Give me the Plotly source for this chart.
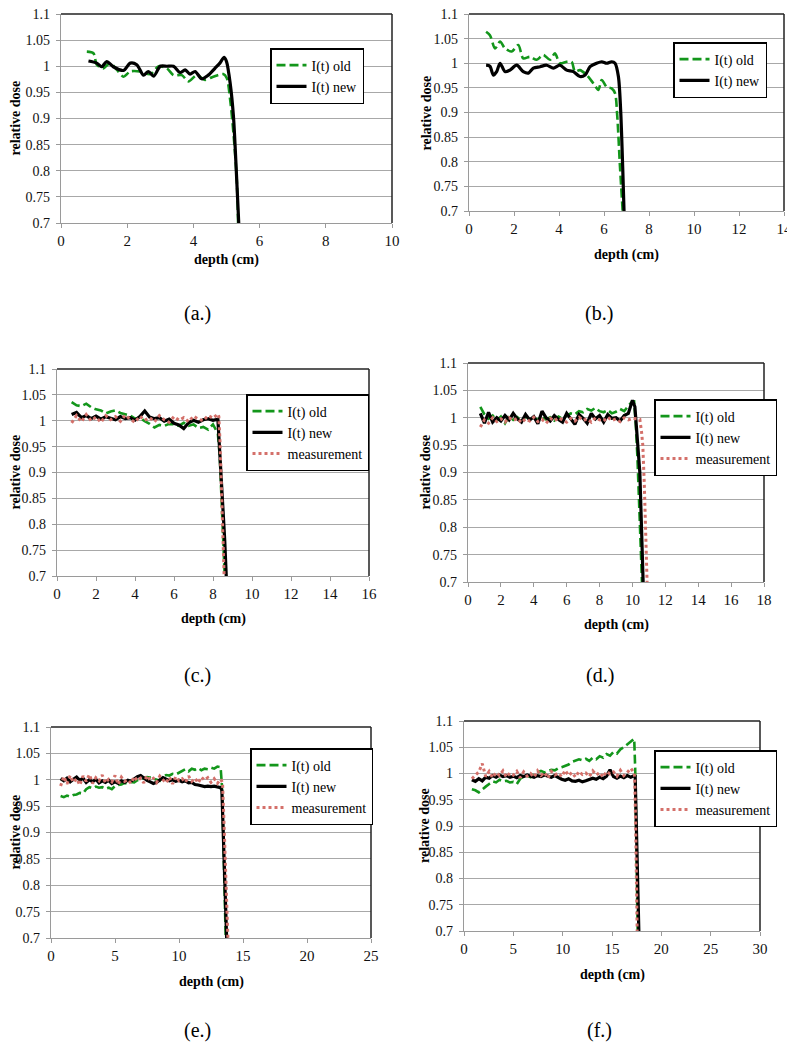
import plotly.graph_objects as go

# ---------------- DATA ----------------
# Panel (a)
a_old_x = [0.78, 0.98, 1.08, 1.28, 1.48, 1.69, 1.89, 2.09, 2.39, 2.70, 2.95, 3.20, 3.40, 3.65, 3.85, 4.10,
           4.35, 4.60, 4.90, 5.01, 5.11, 5.21, 5.31, 5.35]
a_old_y = [1.028, 1.025, 1.003, 0.996, 1.006, 0.993, 0.980, 0.990, 0.990, 0.985, 1.000, 0.996, 0.983, 0.983, 0.971, 0.983,
           0.974, 0.980, 0.985, 0.977, 0.936, 0.872, 0.783, 0.700]
a_new_x = [0.83, 1.08, 1.23, 1.38, 1.58, 1.89, 2.09, 2.29, 2.49, 2.64, 2.80, 3.00, 3.20, 3.40, 3.60, 3.75,
           3.90, 4.05, 4.25, 4.45, 4.65, 4.80, 4.93, 5.00, 5.11, 5.21, 5.29, 5.37]
a_new_y = [1.010, 1.006, 0.999, 1.009, 0.999, 0.992, 1.006, 1.003, 0.983, 0.990, 0.981, 1.000, 1.000, 1.000, 0.988, 0.993,
           0.985, 0.990, 0.976, 0.983, 0.996, 1.006, 1.017, 1.009, 0.968, 0.904, 0.808, 0.700]

# Panel (b)
b_old_x = [0.76, 0.93, 1.16, 1.38, 1.60, 1.90, 2.19, 2.41, 2.71, 3.01, 3.30, 3.60, 3.82, 4.04, 4.34, 4.56,
           4.71, 4.93, 5.23, 5.53, 5.75, 5.90, 6.12, 6.34, 6.49, 6.59, 6.71, 6.83]
b_old_y = [1.064, 1.057, 1.030, 1.044, 1.030, 1.024, 1.037, 1.010, 1.013, 1.007, 1.017, 1.007, 1.020, 1.000, 1.003, 1.003,
           0.983, 0.986, 0.976, 0.959, 0.946, 0.966, 0.952, 0.949, 0.939, 0.892, 0.790, 0.700]
b_new_x = [0.76, 0.93, 1.08, 1.23, 1.38, 1.60, 1.82, 2.12, 2.41, 2.64, 2.86, 3.16, 3.45, 3.75, 4.04, 4.34,
           4.64, 4.93, 5.16, 5.38, 5.67, 5.90, 6.12, 6.34, 6.49, 6.64, 6.74, 6.83, 6.89]
b_new_y = [0.996, 0.994, 0.976, 0.983, 1.000, 0.983, 0.986, 0.996, 0.983, 0.980, 0.990, 0.993, 0.996, 0.990, 0.996, 0.986,
           0.983, 0.973, 0.976, 0.993, 1.000, 1.003, 1.000, 1.003, 1.000, 0.973, 0.905, 0.790, 0.700]

# Panel (c)
c_depth = [0.75, 1.00, 1.25, 1.50, 1.75, 2.00, 2.25, 2.50, 2.75, 3.00, 3.25, 3.50, 3.75, 4.00, 4.25, 4.50,
           4.75, 5.00, 5.25, 5.50, 5.75, 6.00, 6.25, 6.50, 6.75, 7.00, 7.25, 7.50, 7.75, 8.00, 8.25]
c_old = [1.036, 1.030, 1.028, 1.033, 1.026, 1.022, 1.020, 1.014, 1.018, 1.020, 1.015, 1.012, 1.010, 1.004, 1.006, 0.999,
         0.994, 0.987, 0.992, 0.990, 0.994, 0.993, 0.990, 0.996, 0.990, 0.993, 0.986, 0.988, 0.983, 0.993, 0.975]
c_new = [1.012, 1.016, 1.006, 1.010, 1.004, 1.009, 1.003, 1.008, 1.005, 1.002, 1.008, 1.004, 1.006, 1.001, 1.008, 1.019,
         1.007, 1.004, 1.006, 0.999, 1.003, 0.995, 0.992, 0.985, 0.996, 1.001, 0.997, 1.002, 1.004, 1.001, 1.003]
c_meas = [0.996, 1.010, 0.998, 1.012, 1.000, 1.007, 0.997, 1.010, 1.002, 1.008, 0.999, 1.011, 1.003, 0.997, 1.009, 1.001,
          1.006, 0.998, 1.010, 1.002, 0.997, 1.008, 1.001, 1.006, 0.998, 1.009, 1.003, 1.000, 1.010, 1.005, 1.013]
c_old_tail_x = [8.35, 8.45, 8.55, 8.60]
c_old_tail_y = [0.930, 0.850, 0.760, 0.700]
c_new_tail_x = [8.32, 8.42, 8.52, 8.60, 8.68]
c_new_tail_y = [0.960, 0.900, 0.840, 0.770, 0.700]
c_meas_tail_x = [8.30, 8.36, 8.45, 8.52, 8.57]
c_meas_tail_y = [1.008, 0.960, 0.850, 0.770, 0.700]

# Panel (d)
d_depth = [0.75, 1.00, 1.25, 1.50, 1.75, 2.00, 2.25, 2.50, 2.75, 3.00, 3.25, 3.50, 3.75, 4.00, 4.25, 4.50,
           4.75, 5.00, 5.25, 5.50, 5.75, 6.00, 6.25, 6.50, 6.75, 7.00, 7.25, 7.50, 7.75, 8.00, 8.25, 8.50,
           8.75, 9.00, 9.25, 9.50, 9.75, 10.00]
d_old = [1.020, 1.006, 0.998, 1.004, 0.995, 1.002, 0.990, 1.003, 0.996, 1.001, 0.994, 1.002, 0.998, 1.000, 0.996, 1.003,
         0.997, 1.001, 0.995, 1.002, 0.998, 1.004, 1.008, 1.006, 1.012, 1.010, 1.016, 1.013, 1.018, 1.012, 1.010, 1.014,
         1.008, 1.011, 1.016, 1.012, 1.022, 1.030]
d_new = [1.008, 0.990, 1.010, 0.992, 1.000, 0.994, 1.004, 0.996, 1.008, 0.998, 0.992, 1.006, 0.996, 1.002, 0.989, 1.012,
         1.000, 0.994, 1.004, 0.997, 0.992, 1.008, 0.998, 0.988, 1.006, 0.999, 0.990, 1.008, 0.998, 1.004, 0.992, 1.006,
         0.999, 1.000, 0.994, 1.004, 1.008, 1.032]
d_meas = [0.983, 0.996, 0.990, 1.000, 0.993, 0.998, 0.992, 1.000, 0.995, 0.999, 0.991, 0.998, 0.994, 1.001, 0.993, 0.997,
          0.990, 0.999, 0.994, 1.000, 0.996, 0.992, 0.999, 0.994, 1.001, 0.995, 0.998, 0.992, 1.000, 0.996, 0.994, 1.001,
          0.995, 0.998, 0.993, 1.000, 0.996, 0.999]
d_old_tail_x = [10.10, 10.20, 10.30, 10.45, 10.58]
d_old_tail_y = [1.030, 0.990, 0.930, 0.820, 0.700]
d_new_tail_x = [10.15, 10.25, 10.33, 10.45, 10.55, 10.65]
d_new_tail_y = [1.020, 0.985, 0.950, 0.900, 0.800, 0.700]
d_meas_tail_x = [10.25, 10.45, 10.55, 10.63, 10.72, 10.80, 10.89]
d_meas_tail_y = [0.998, 0.997, 0.975, 0.950, 0.880, 0.800, 0.700]

# Panel (e)
e_depth = [0.75, 1.00, 1.25, 1.50, 1.75, 2.00, 2.25, 2.50, 2.75, 3.00, 3.25, 3.50, 3.75, 4.00, 4.25, 4.50,
           4.75, 5.00, 5.25, 5.50, 5.75, 6.00, 6.25, 6.50, 6.75, 7.00, 7.25, 7.50, 7.75, 8.00, 8.25, 8.50,
           8.75, 9.00, 9.25, 9.50, 9.75, 10.00, 10.25, 10.50, 10.75, 11.00, 11.25, 11.50, 11.75, 12.00, 12.25, 12.50,
           12.75, 13.00, 13.25]
e_old = [0.969, 0.967, 0.970, 0.968, 0.971, 0.972, 0.975, 0.974, 0.982, 0.986, 0.984, 0.987, 0.985, 0.986, 0.983, 0.985,
         0.982, 0.988, 0.990, 0.991, 0.994, 0.992, 0.996, 0.995, 0.999, 1.001, 1.003, 1.005, 1.004, 1.002, 1.000, 0.998,
         1.006, 1.009, 1.008, 1.011, 1.010, 1.013, 1.017, 1.020, 1.016, 1.021, 1.019, 1.022, 1.018, 1.021, 1.020, 1.023,
         1.021, 1.025, 1.024]
e_new = [1.002, 0.998, 1.003, 0.996, 1.001, 1.005, 0.999, 1.003, 0.995, 1.000, 0.996, 1.001, 0.994, 0.998, 0.995, 0.999,
         0.993, 0.996, 0.993, 0.998, 0.995, 0.999, 0.997, 1.002, 1.006, 1.008, 1.003, 0.999, 0.996, 0.993, 0.995, 0.999,
         1.004, 1.001, 0.998, 1.000, 0.997, 0.999, 0.996, 0.998, 0.994, 0.995, 0.991, 0.990, 0.988, 0.987, 0.988, 0.987,
         0.988, 0.986, 0.985]
e_meas = [0.988, 1.006, 0.992, 1.008, 0.995, 1.002, 0.990, 1.007, 0.997, 1.010, 0.993, 1.004, 0.998, 1.009, 0.994, 1.001,
          0.996, 1.008, 0.991, 1.005, 0.997, 1.000, 0.993, 1.006, 0.998, 1.003, 0.994, 1.008, 0.999, 1.003, 0.995, 1.007,
          1.000, 0.994, 1.005, 0.992, 1.006, 0.998, 1.002, 0.995, 1.007, 0.997, 1.003, 0.994, 1.005, 0.999, 1.004, 0.995,
          1.002, 0.993, 1.001]
e_old_tail_x = [13.35, 13.45, 13.55, 13.65]
e_old_tail_y = [0.990, 0.900, 0.800, 0.700]
e_new_tail_x = [13.35, 13.45, 13.55, 13.65, 13.72]
e_new_tail_y = [0.980, 0.900, 0.820, 0.750, 0.700]
e_meas_tail_x = [13.40, 13.50, 13.60, 13.70, 13.82]
e_meas_tail_y = [0.995, 0.930, 0.860, 0.790, 0.700]

# Panel (f)
f_depth = [0.80, 1.15, 1.50, 1.85, 2.20, 2.55, 2.90, 3.25, 3.60, 3.95, 4.30, 4.65, 5.00, 5.35, 5.70, 6.05,
           6.40, 6.75, 7.10, 7.45, 7.80, 8.15, 8.50, 8.85, 9.20, 9.55, 9.90, 10.25, 10.60, 10.95, 11.30, 11.65,
           12.00, 12.35, 12.70, 13.05, 13.40, 13.75, 14.10, 14.45, 14.80, 15.15, 15.50, 15.85, 16.20, 16.55, 16.90, 17.25]
f_old = [0.970, 0.968, 0.964, 0.970, 0.975, 0.980, 0.985, 0.983, 0.988, 0.985, 0.986, 0.983, 0.984, 0.980, 0.990, 0.994,
         0.996, 0.993, 0.999, 1.002, 1.005, 1.002, 1.004, 1.007, 1.006, 1.010, 1.012, 1.015, 1.017, 1.022, 1.024, 1.027,
         1.025, 1.028, 1.024, 1.030, 1.027, 1.033, 1.030, 1.037, 1.034, 1.041, 1.038, 1.046, 1.050, 1.055, 1.060, 1.066]
f_new = [0.988, 0.985, 0.990, 0.986, 0.993, 0.991, 0.996, 0.993, 0.997, 0.994, 0.996, 0.993, 0.995, 0.992, 0.996, 0.994,
         0.997, 0.995, 0.993, 0.996, 0.994, 0.997, 0.995, 0.993, 0.996, 0.992, 0.989, 0.987, 0.990, 0.986, 0.985, 0.987,
         0.984, 0.986, 0.988, 0.991, 0.989, 0.993, 0.990, 0.995, 1.007, 0.994, 0.991, 0.995, 0.992, 0.996, 0.993, 0.996]
f_meas = [0.990, 0.997, 1.003, 1.019, 0.994, 1.004, 0.992, 1.002, 0.996, 1.005, 0.993, 1.001, 0.997, 1.004, 0.992, 1.003,
          0.995, 1.000, 0.993, 1.005, 0.996, 1.002, 0.991, 1.004, 0.997, 1.001, 0.994, 1.006, 0.996, 1.002, 0.993, 1.004,
          0.998, 1.001, 0.994, 1.005, 0.997, 1.002, 0.993, 1.004, 0.999, 1.003, 0.995, 1.006, 0.996, 1.002, 1.010, 1.001]
f_old_tail_x = [17.35, 17.42, 17.50, 17.60]
f_old_tail_y = [1.010, 0.930, 0.820, 0.700]
f_new_tail_x = [17.35, 17.45, 17.55, 17.65, 17.72]
f_new_tail_y = [0.995, 0.920, 0.840, 0.760, 0.700]
f_meas_tail_x = [17.30, 17.38, 17.45, 17.55]
f_meas_tail_y = [0.990, 0.920, 0.840, 0.700]

# Axis ticks and labels
y_tickvals = [0.7, 0.75, 0.8, 0.85, 0.9, 0.95, 1.0, 1.05, 1.1]
y_ticktext = ["0.7", "0.75", "0.8", "0.85", "0.9", "0.95", "1", "1.05", "1.1"]
x_max = [10, 14, 16, 18, 25, 30]
x_dtick = [2, 2, 2, 2, 5, 5]
panel_labels = ["(a.)", "(b.)", "(c.)", "(d.)", "(e.)", "(f.)"]
series_names = ["I(t) old", "I(t) new", "measurement"]
x_title = "depth (cm)"
y_title = "relative dose"

# ---------------- LAYOUT ----------------
# The page body keeps its default 8px margin, so the figure is drawn 8px
# right/down of the window corner; window pixel positions are converted.
OFF = 8
W, H = 795 - OFF, 1050 - OFF
FONT = "Liberation Serif"
GREEN = "#13961b"
BLACK = "#000000"
RED = "#d4706a"


def fx(px):
    return (px - OFF) / W


def fy(py):
    return 1 - (py - OFF) / H


# plot boxes in window pixels: left, right, top, bottom
boxes = [(61, 392, 14, 223), (469, 784, 14, 211),
         (57, 369, 369, 576), (468, 764, 363, 582),
         (51, 371, 727, 938), (464, 760, 721, 931)]
legend_pos = [(270, 48), (673, 42), (246, 394), (654, 399), (250, 748), (654, 750)]
label_pos = [(197, 313), (599, 313), (197, 675), (600, 675), (197, 1030), (599, 1030)]
xtitle_y = [260, 255, 619, 625, 982, 975]
ytitle_x = [15, 426, 15, 425, 15, 424]

panels = [
    [(a_old_x, a_old_y), (a_new_x, a_new_y)],
    [(b_old_x, b_old_y), (b_new_x, b_new_y)],
    [(c_depth + c_old_tail_x, c_old + c_old_tail_y), (c_depth + c_new_tail_x, c_new + c_new_tail_y),
     (c_depth + c_meas_tail_x, c_meas + c_meas_tail_y)],
    [(d_depth + d_old_tail_x, d_old + d_old_tail_y), (d_depth + d_new_tail_x, d_new + d_new_tail_y),
     (d_depth + d_meas_tail_x, d_meas + d_meas_tail_y)],
    [(e_depth + e_old_tail_x, e_old + e_old_tail_y), (e_depth + e_new_tail_x, e_new + e_new_tail_y),
     (e_depth + e_meas_tail_x, e_meas + e_meas_tail_y)],
    [(f_depth + f_old_tail_x, f_old + f_old_tail_y), (f_depth + f_new_tail_x, f_new + f_new_tail_y),
     (f_depth + f_meas_tail_x, f_meas + f_meas_tail_y)],
]

styles = [
    dict(color=GREEN, width=2.6, dash="9px,4px"),
    dict(color=BLACK, width=3.2),
    dict(color=RED, width=3, dash="dot"),
]

fig = go.Figure()
layout = dict(width=W, height=H, margin=dict(l=0, r=0, t=0, b=0, autoexpand=False),
              paper_bgcolor="white", plot_bgcolor="white",
              font=dict(family=FONT, size=14, color="black"), showlegend=True)
annotations = []
shapes = []

for i, (series, box) in enumerate(zip(panels, boxes)):
    n = "" if i == 0 else str(i + 1)
    xa, ya = "x" + n, "y" + n
    lg = "legend" + n
    for j, (xs, ys) in enumerate(series):
        smooth = i < 2
        fig.add_trace(go.Scatter(
            x=xs, y=ys, mode="lines", name=series_names[j],
            line=dict(**styles[j], shape="spline" if smooth else "linear", smoothing=0.8 if smooth else None),
            xaxis=xa, yaxis=ya, legend=lg, legendgroup=f"p{i}s{j}", showlegend=True,
        ))
    l, r, t, b = box
    layout["xaxis" + n] = dict(
        domain=[fx(l), fx(r)], anchor=ya, range=[0, x_max[i]], dtick=x_dtick[i], tick0=0,
        automargin=False, ticklabeloverflow="allow",
        showgrid=False, zeroline=False, showline=True, linecolor="#9a9a9a", linewidth=1.3,
        ticks="outside", ticklen=4, tickcolor="#9a9a9a",
        tickfont=dict(family=FONT, size=15, color="#111111"),
    )
    layout["yaxis" + n] = dict(
        domain=[fy(b), fy(t)], anchor=xa, range=[0.7, 1.1],
        automargin=False, ticklabeloverflow="allow",
        tickvals=y_tickvals, ticktext=y_ticktext,
        showgrid=True, gridcolor="#a8a8a8", gridwidth=1.3, zeroline=False,
        showline=True, linecolor="#9a9a9a", linewidth=1.3,
        ticks="outside", ticklen=4, tickcolor="#9a9a9a", ticklabelstandoff=3,
        tickfont=dict(family=FONT, size=14, color="#111111"),
    )
    lx, ly = legend_pos[i]
    layout[lg] = dict(
        x=fx(lx), y=fy(ly), xanchor="left", yanchor="top",
        bgcolor="white", bordercolor="black", borderwidth=1.5,
        font=dict(family=FONT, size=14), itemwidth=30,
        tracegroupgap=7 if i < 2 else 3, traceorder="normal",
    )
    shapes.append(dict(type="line", xref=xa + " domain", yref=ya + " domain", x0=0, x1=1, y0=1, y1=1,
                       line=dict(color="#222222", width=1.5), layer="above"))
    shapes.append(dict(type="line", xref=xa + " domain", yref=ya + " domain", x0=1, x1=1, y0=0, y1=1,
                       line=dict(color="#222222", width=1.5), layer="above"))
    annotations.append(dict(text="<b>" + x_title + "</b>", x=fx((l + r) / 2), y=fy(xtitle_y[i]),
                            xref="paper", yref="paper", showarrow=False,
                            font=dict(family=FONT, size=14), xanchor="center", yanchor="middle"))
    annotations.append(dict(text="<b>" + y_title + "</b>", x=fx(ytitle_x[i]), y=fy((t + b) / 2),
                            xref="paper", yref="paper", showarrow=False, textangle=-90,
                            font=dict(family=FONT, size=14), xanchor="center", yanchor="middle"))
    px, py = label_pos[i]
    annotations.append(dict(text=panel_labels[i], x=fx(px), y=fy(py), xref="paper", yref="paper",
                            showarrow=False, font=dict(family=FONT, size=20), xanchor="center", yanchor="middle"))

layout["annotations"] = annotations
layout["shapes"] = shapes
fig.update_layout(**layout)
fig.write_html("out.html")
